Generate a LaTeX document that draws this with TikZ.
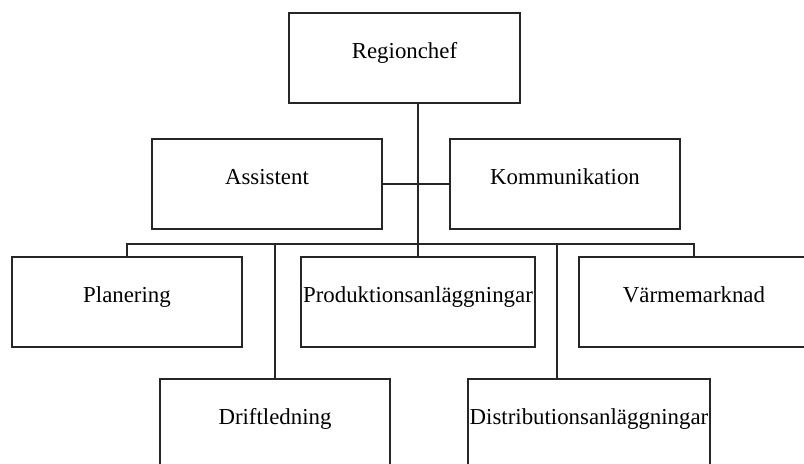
\documentclass[tikz,border=0pt]{standalone}
\usepackage{fontspec}
\setmainfont{Liberation Serif}
\definecolor{oLine}{HTML}{262626}
\usepackage{tikz}
\usetikzlibrary{positioning,calc}

\begin{document}
\begin{tikzpicture}[font=\fontsize{13pt}{15pt}\selectfont,
  unit/.style={draw=oLine, line width=1.25pt, minimum width=4.6cm, minimum height=1.8cm, text height=1.2ex, text depth=1.2ex, inner sep=0pt},
  link/.style={draw=oLine, line width=1.25pt}]
\clip (0,0) rectangle (16.08,-9.26);
\node[unit, minimum width=4.62cm] (chef) at (8.09,-1.16) {Regionchef};
\node[unit] (asst) at (5.34,-3.68) {Assistent};
\node[unit] (komm) at (11.30,-3.68) {Kommunikation};
\node[unit] (plan) at (2.54,-6.04) {Planering};
\node[unit, minimum width=4.68cm] (prod) at (8.36,-6.04) {Produktionsanläggningar};
\node[unit] (varme) at (13.88,-6.04) {Värmemarknad};
\node[unit] (drift) at (5.50,-8.48) {Driftledning};
\node[unit, minimum width=4.84cm] (dist) at (11.78,-8.48) {Distributionsanläggningar};
% staff and line units
\coordinate (bar) at ($(prod.north)+(0,0.24)$);
\coordinate (disttop) at ($(dist.north)+(-0.64,0)$);
\draw[link] (prod.north) -- (prod.north |- chef.south);
\draw[link] (asst.east) -- (komm.west);
\draw[link] (plan.north) |- (bar) -| (varme.north);
\draw[link] (drift.north) -- (drift.north |- bar);
\draw[link] (disttop) -- (disttop |- bar);
\end{tikzpicture}
\end{document}
